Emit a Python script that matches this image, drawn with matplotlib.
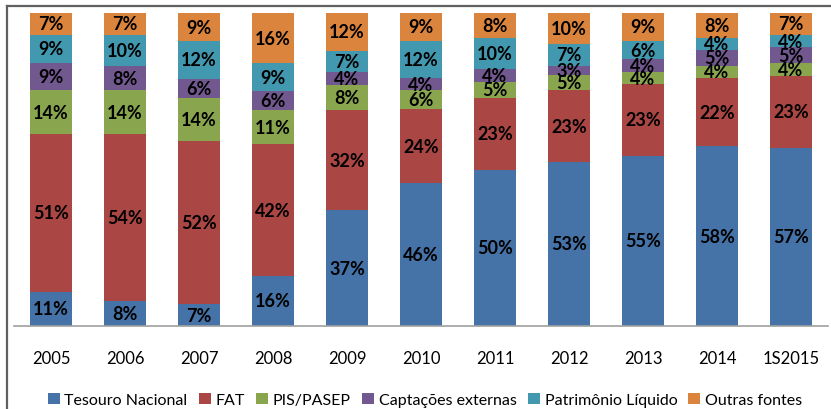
import matplotlib
matplotlib.use("Agg")
import matplotlib.pyplot as plt
from matplotlib.lines import Line2D
import numpy as np

plt.rcParams['font.family'] = ['Lato', 'DejaVu Sans']

categories = ["2005", "2006", "2007", "2008", "2009", "2010", "2011", "2012", "2013", "2014", "1S2015"]
series_names = ["Tesouro Nacional", "FAT", "PIS/PASEP", "Captações externas", "Patrimônio Líquido", "Outras fontes"]
tesouro = [11, 8, 7, 16, 37, 46, 50, 53, 55, 58, 57]
fat = [51, 54, 52, 42, 32, 24, 23, 23, 23, 22, 23]
pis = [14, 14, 14, 11, 8, 6, 5, 5, 4, 4, 4]
captacoes = [9, 8, 6, 6, 4, 4, 4, 3, 4, 5, 5]
patrimonio = [9, 10, 12, 9, 7, 12, 10, 7, 6, 4, 4]
outras = [7, 7, 9, 16, 12, 9, 8, 10, 9, 8, 7]
colors = ["#4572A7", "#AA4643", "#89A54E", "#71588F", "#4198AF", "#DB843D"]

data = np.array([tesouro, fat, pis, captacoes, patrimonio, outras], dtype=float)
totals = data.sum(axis=0)
shares = data / totals * 100

W, H = 831, 410
fig = plt.figure(figsize=(W / 100, H / 100), dpi=100)
ax = fig.add_axes([14 / W, (H - 327) / H, (828 - 14) / W, (327 - 14) / H])

x = np.arange(len(categories))
bottom = np.zeros(len(categories))
for i, name in enumerate(series_names):
    ax.bar(x, shares[i], width=0.57, bottom=bottom, color=colors[i], label=name,
           edgecolor='none', zorder=2)
    for j in range(len(categories)):
        ax.text(x[j], bottom[j] + shares[i][j] / 2, f"{int(data[i][j])}%",
                ha='center', va='center', fontsize=13, fontweight='bold',
                color='black', zorder=3)
    bottom += shares[i]

ax.set_xlim(-0.5, len(categories) - 0.5)
ax.set_ylim(0, 100)
ax.set_yticks([])
ax.set_xticks(x)
ax.set_xticklabels(categories, fontsize=12)
ax.tick_params(axis='x', length=0, pad=17)
for s in ['top', 'right', 'left']:
    ax.spines[s].set_visible(False)
ax.spines['bottom'].set_color('#A0A0A0')
ax.spines['bottom'].set_linewidth(1.2)

leg = fig.legend(loc='center', bbox_to_anchor=(425 / W, 1 - 401 / H), ncol=6, frameon=False,
                 fontsize=11.5, handlelength=0.75, handleheight=0.75, handletextpad=0.3,
                 columnspacing=0.7, borderaxespad=0)

# outer frame (top and left visible)
fig.add_artist(Line2D([7 / W, 1], [1 - 7 / H, 1 - 7 / H], transform=fig.transFigure,
                      color='#606060', linewidth=1.6))
fig.add_artist(Line2D([7 / W, 7 / W], [0, 1 - 7 / H], transform=fig.transFigure,
                      color='#606060', linewidth=1.6))

fig.savefig("out.png", dpi=100)
